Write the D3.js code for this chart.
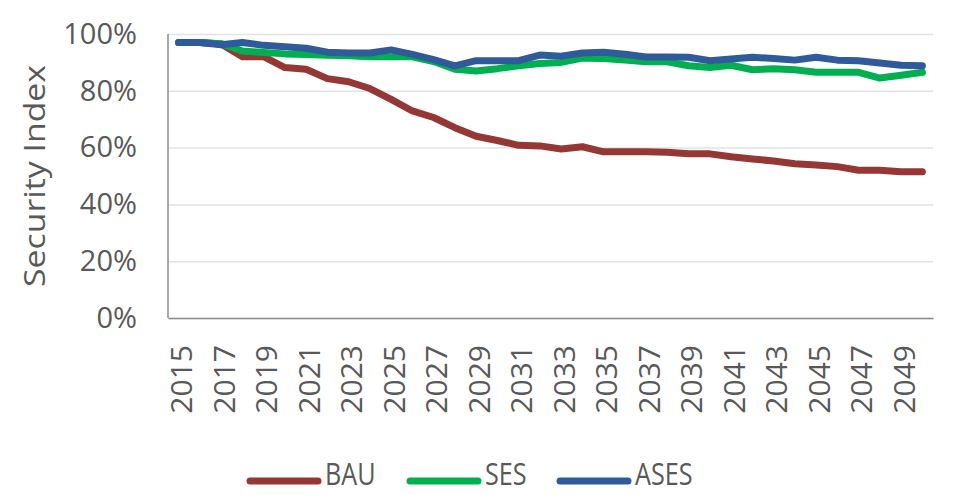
<!DOCTYPE html>
<html>
<head>
<meta charset="utf-8">
<script src="https://cdn.jsdelivr.net/npm/d3@7"></script>
<style>
  body { margin: 0; background: #fff; }
  svg text { font-family: "Open Sans", "Noto Sans", sans-serif; fill: #595959; }
</style>
</head>
<body>
<div id="chart"></div>
<script>
const years = [2015, 2016, 2017, 2018, 2019, 2020, 2021, 2022, 2023, 2024,
               2025, 2026, 2027, 2028, 2029, 2030, 2031, 2032, 2033, 2034,
               2035, 2036, 2037, 2038, 2039, 2040, 2041, 2042, 2043, 2044,
               2045, 2046, 2047, 2048, 2049, 2050];

// values in percent
const bau = [97, 97, 96.5, 92, 92, 88.2, 87.6, 84.3, 83.2, 80.8,
             77, 72.9, 70.6, 67, 64, 62.5, 60.8, 60.6, 59.5, 60.3,
             58.5, 58.5, 58.5, 58.4, 57.8, 57.8, 56.8, 56, 55.3, 54.3,
             53.9, 53.3, 52, 52, 51.5, 51.5];
const ses = [97, 97, 96.6, 94, 93.5, 93, 92.8, 92.5, 92.3, 92,
             92, 92, 90.3, 87.6, 87, 87.8, 88.8, 89.6, 90, 91.5,
             91.4, 90.8, 90.2, 90.2, 88.8, 88.2, 89, 87.4, 87.8, 87.4,
             86.5, 86.5, 86.5, 84.5, 85.5, 86.5];
const ases = [97, 97, 96.2, 97, 96, 95.5, 95, 93.6, 93.3, 93.3,
              94.4, 92.8, 91, 88.8, 90.6, 90.6, 90.6, 92.6, 92.2, 93.3,
              93.6, 92.9, 91.9, 91.9, 91.8, 90.6, 91.2, 91.8, 91.4, 90.8,
              91.8, 90.8, 90.6, 89.8, 89, 88.8];

const seriesNames = ["BAU", "SES", "ASES"];
const seriesColors = ["#953735", "#00b050", "#2f5b9a"];
const yTicks = [0, 20, 40, 60, 80, 100];

const width = 960, height = 495;
const plot = { left: 168, right: 933, top: 34, bottom: 318 };

const series = [bau, ses, ases].map((vals, i) => ({
    name: seriesNames[i],
    color: seriesColors[i],
    values: vals.map((v, j) => ({ year: years[j], value: v }))
}));

const svg = d3.select("#chart").append("svg")
    .attr("width", width)
    .attr("height", height);

const x = d3.scaleBand()
    .domain(years)
    .range([plot.left, plot.right]);

const y = d3.scaleLinear()
    .domain([0, 100])
    .range([plot.bottom, plot.top]);

// gridlines + y axis labels
const yAxis = svg.append("g")
    .attr("transform", `translate(${plot.left},0)`)
    .call(d3.axisLeft(y)
        .tickValues(yTicks)
        .tickSize(-(plot.right - plot.left))
        .tickPadding(31)
        .tickFormat(d => d + "%"));
yAxis.select(".domain").remove();
yAxis.selectAll(".tick line").attr("stroke", "#e3e3e3").attr("stroke-width", 1.5);
yAxis.selectAll(".tick text").style("font-size", "29px");

// left frame line
svg.append("line")
    .attr("x1", plot.left).attr("x2", plot.left)
    .attr("y1", plot.top).attr("y2", plot.bottom)
    .attr("stroke", "#8c8c8c").attr("stroke-width", 1.5);

// x axis
const xAxis = svg.append("g")
    .attr("transform", `translate(0,${plot.bottom})`)
    .call(d3.axisBottom(x)
        .tickValues(years.filter((d, i) => i % 2 === 0))
        .tickSize(0));
xAxis.select(".domain").attr("stroke", "#8c8c8c").attr("stroke-width", 1.5);
xAxis.selectAll(".tick text")
    .style("font-size", "30px")
    .attr("text-anchor", "end")
    .attr("dominant-baseline", "central")
    .attr("y", 0)
    .attr("dy", 0)
    .attr("transform", "translate(2,27) rotate(-90)");

// y title
svg.append("text")
    .attr("transform", "translate(33,176) rotate(-90)")
    .attr("text-anchor", "middle")
    .attr("dominant-baseline", "central")
    .style("font-size", "29px")
    .attr("textLength", 222)
    .attr("lengthAdjust", "spacingAndGlyphs")
    .text("Security Index");

const line = d3.line()
    .x(d => x(d.year) + x.bandwidth() / 2)
    .y(d => y(d.value));

svg.selectAll(".series")
    .data(series)
    .enter()
    .append("path")
    .attr("class", "series")
    .attr("fill", "none")
    .attr("stroke", d => d.color)
    .attr("stroke-width", 7)
    .attr("stroke-linejoin", "round")
    .attr("stroke-linecap", "round")
    .attr("d", d => line(d.values));

// legend
const legendX = [250, 410, 560];
const legend = svg.append("g").attr("transform", "translate(0,481)");
series.forEach((s, i) => {
    legend.append("line")
        .attr("x1", legendX[i]).attr("x2", legendX[i] + 68)
        .attr("y1", 0).attr("y2", 0)
        .attr("stroke", s.color)
        .attr("stroke-width", 7)
        .attr("stroke-linecap", "round");
    legend.append("text")
        .attr("transform", `translate(${legendX[i] + 75},4) scale(0.9,1.1)`)
        .style("font-size", "28px")
        .text(s.name);
});
</script>
</body>
</html>
